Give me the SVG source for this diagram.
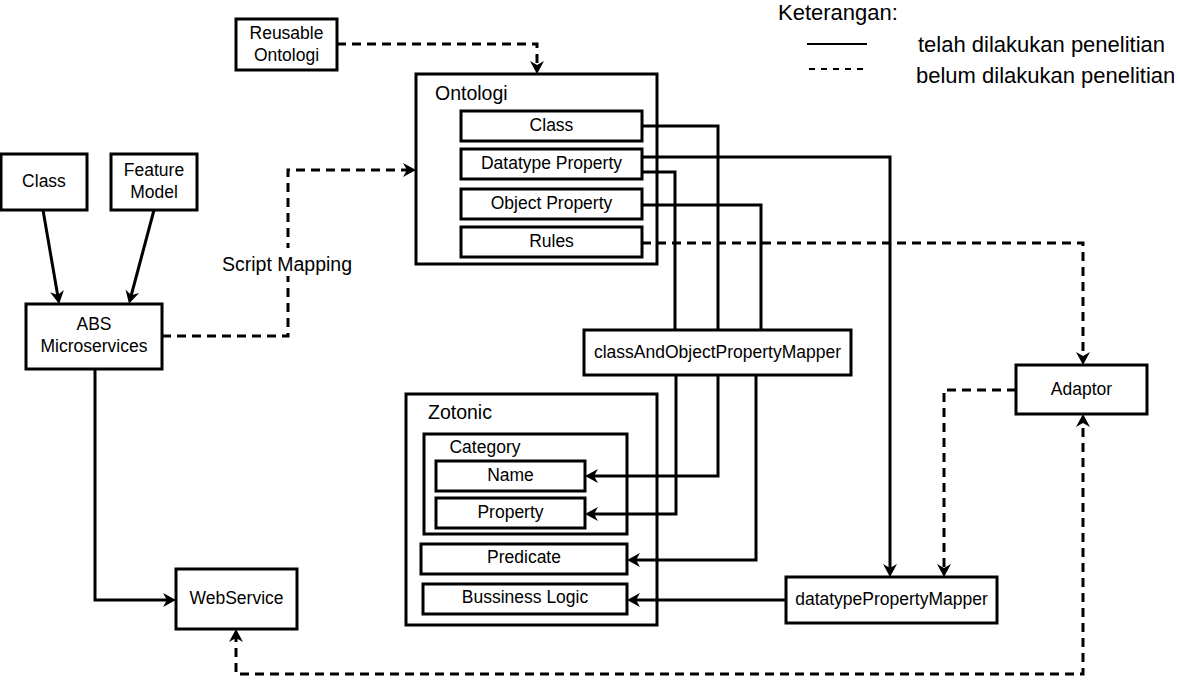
<svg xmlns="http://www.w3.org/2000/svg" width="1180" height="686" viewBox="0 0 1180 686">
<style>
.box{fill:#fff;stroke:#000;stroke-width:3}
.cont{fill:none;stroke:#000;stroke-width:3}
.t{font-family:"Liberation Sans",Arial,sans-serif;font-size:17.5px;fill:#000;text-anchor:middle}
.tl{font-family:"Liberation Sans",Arial,sans-serif;font-size:19.5px;fill:#000}
.lg{font-family:"Liberation Sans",Arial,sans-serif;font-size:22px;fill:#000}
.c{fill:none;stroke:#000;stroke-width:3}
.d{stroke-dasharray:9 6}
</style>
<defs>
<marker id="ah" markerUnits="userSpaceOnUse" markerWidth="16" markerHeight="16" viewBox="0 0 16 16" refX="10" refY="8" orient="auto-start-reverse">
<path d="M1,1 L14,8 L1,15 L5,8 Z" fill="#000"/>
</marker>
</defs>
<rect width="1180" height="686" fill="#fff"/>
<g id="ontologi">
<rect class="cont" x="416" y="74" width="241" height="190"/>
<text class="tl" x="435" y="100">Ontologi</text>
</g>
<g id="zotonic">
<rect class="cont" x="406" y="394" width="251" height="231"/>
<text class="tl" x="428" y="419">Zotonic</text>
</g>
<g id="category">
<rect class="cont" x="424" y="434" width="203" height="100"/>
<text class="t" x="485" y="453">Category</text>
</g>
<g id="connectors">
<path class="c d" d="M337,44 H537 V70" marker-end="url(#ah)"/>
<path class="c" d="M43,210 L58.5,300" marker-end="url(#ah)"/>
<path class="c" d="M154,210 L130,300" marker-end="url(#ah)"/>
<path class="c d" d="M162,336 H288 V170 H412" marker-end="url(#ah)"/>
<path class="c" d="M95,369 V600 H172" marker-end="url(#ah)"/>
<path class="c" d="M642,126 H718 V330"/>
<path class="c" d="M718,375 V476 H589" marker-end="url(#ah)"/>
<path class="c" d="M642,157 H890 V573" marker-end="url(#ah)"/>
<path class="c" d="M642,172 H675 V330"/>
<path class="c" d="M676,375 V514 H589" marker-end="url(#ah)"/>
<path class="c" d="M642,205 H761 V330"/>
<path class="c" d="M756,375 V560 H631" marker-end="url(#ah)"/>
<path class="c d" d="M642,243 H1083 V361" marker-end="url(#ah)"/>
<path class="c d" d="M1016,390 H944 V573" marker-end="url(#ah)"/>
<path class="c" d="M786,600 H631" marker-end="url(#ah)"/>
<path class="c d" d="M236,633 V674 H1083 V418" marker-start="url(#ah)" marker-end="url(#ah)"/>
<rect x="219" y="248" width="137" height="28" fill="#fff"/>
<text class="tl" x="287" y="271" text-anchor="middle">Script Mapping</text>
</g>
<g id="reusable">
<rect class="box" x="236" y="19" width="101" height="51"/>
<text class="t" x="286.5" y="39">Reusable</text>
<text class="t" x="286.5" y="61">Ontologi</text>
</g>
<g id="class-left">
<rect class="box" x="1" y="154" width="86" height="56"/>
<text class="t" x="44" y="187">Class</text>
</g>
<g id="feature-model">
<rect class="box" x="111" y="154" width="86" height="56"/>
<text class="t" x="154" y="176">Feature</text>
<text class="t" x="154" y="198">Model</text>
</g>
<g id="abs">
<rect class="box" x="26" y="304" width="136" height="65"/>
<text class="t" x="94" y="330">ABS</text>
<text class="t" x="94" y="352">Microservices</text>
</g>
<g id="o-class">
<rect class="box" x="461" y="111" width="181" height="30"/>
<text class="t" x="551.5" y="131">Class</text>
</g>
<g id="o-datatype">
<rect class="box" x="461" y="149" width="181" height="30"/>
<text class="t" x="551.5" y="169">Datatype Property</text>
</g>
<g id="o-object">
<rect class="box" x="461" y="189" width="181" height="30"/>
<text class="t" x="551.5" y="209">Object Property</text>
</g>
<g id="o-rules">
<rect class="box" x="461" y="227" width="181" height="30"/>
<text class="t" x="551.5" y="247">Rules</text>
</g>
<g id="mapper">
<rect class="box" x="584" y="330" width="267" height="45"/>
<text class="t" x="717.5" y="358">classAndObjectPropertyMapper</text>
</g>
<g id="name">
<rect class="box" x="436" y="461" width="149" height="30"/>
<text class="t" x="510.5" y="481">Name</text>
</g>
<g id="property">
<rect class="box" x="436" y="498" width="149" height="30"/>
<text class="t" x="510.5" y="518">Property</text>
</g>
<g id="predicate">
<rect class="box" x="421" y="544" width="206" height="30"/>
<text class="t" x="524" y="563">Predicate</text>
</g>
<g id="bussiness-logic">
<rect class="box" x="423" y="584" width="204" height="30"/>
<text class="t" x="525" y="603">Bussiness Logic</text>
</g>
<g id="adaptor">
<rect class="box" x="1016" y="365" width="131" height="49"/>
<text class="t" x="1081.5" y="395">Adaptor</text>
</g>
<g id="datatype-mapper">
<rect class="box" x="786" y="577" width="211" height="46"/>
<text class="t" x="891.5" y="605">datatypePropertyMapper</text>
</g>
<g id="webservice">
<rect class="box" x="176" y="569" width="121" height="60"/>
<text class="t" x="236.5" y="604">WebService</text>
</g>
<g id="legend">
<text class="lg" x="778" y="20">Keterangan:</text>
<line x1="807" y1="44" x2="867" y2="44" stroke="#000" stroke-width="2"/>
<text class="lg" x="918" y="52">telah dilakukan penelitian</text>
<line x1="809" y1="69" x2="863" y2="69" stroke="#000" stroke-width="2" stroke-dasharray="6 6"/>
<text class="lg" x="916" y="83">belum dilakukan penelitian</text>
</g>
</svg>
